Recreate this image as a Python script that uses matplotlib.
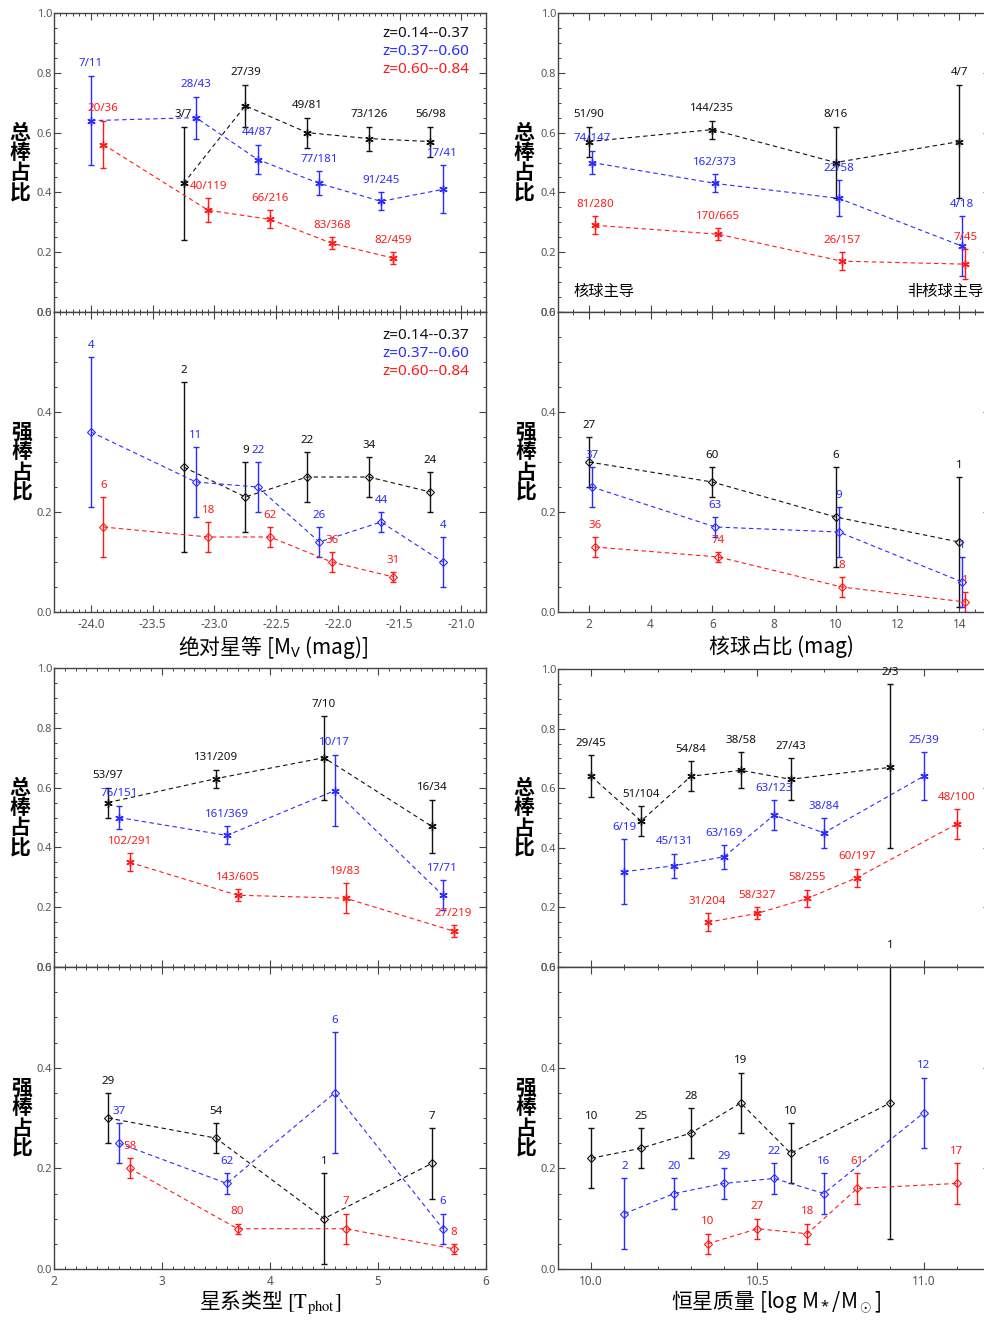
import matplotlib
matplotlib.use("Agg")
import matplotlib.pyplot as plt
from matplotlib.ticker import MultipleLocator, FormatStrFormatter

plt.rcParams['font.family'] = ['Noto Sans', 'Noto Sans CJK SC', 'DejaVu Sans']
plt.rcParams['mathtext.fontset'] = 'custom'
plt.rcParams['mathtext.rm'] = 'Noto Sans'
plt.rcParams['mathtext.it'] = 'Noto Sans:italic'
plt.rcParams['mathtext.bf'] = 'Noto Sans:bold'

# ---- 绝对星等 ----
mv_x_k = [-23.25, -22.75, -22.25, -21.75, -21.25]
mv_x_b = [-24.0, -23.15, -22.65, -22.15, -21.65, -21.15]
mv_x_r = [-23.9, -23.05, -22.55, -22.05, -21.55]
mv_tot_k = [0.43, 0.69, 0.60, 0.58, 0.57]
mv_tot_k_lo = [0.24, 0.62, 0.55, 0.54, 0.52]
mv_tot_k_hi = [0.62, 0.76, 0.65, 0.62, 0.62]
mv_tot_k_lab = ["3/7", "27/39", "49/81", "73/126", "56/98"]
mv_tot_b = [0.64, 0.65, 0.51, 0.43, 0.37, 0.41]
mv_tot_b_lo = [0.49, 0.58, 0.46, 0.39, 0.34, 0.33]
mv_tot_b_hi = [0.79, 0.72, 0.56, 0.47, 0.40, 0.49]
mv_tot_b_lab = ["7/11", "28/43", "44/87", "77/181", "91/245", "17/41"]
mv_tot_r = [0.56, 0.34, 0.31, 0.23, 0.18]
mv_tot_r_lo = [0.48, 0.30, 0.28, 0.21, 0.16]
mv_tot_r_hi = [0.64, 0.38, 0.34, 0.25, 0.20]
mv_tot_r_lab = ["20/36", "40/119", "66/216", "83/368", "82/459"]
mv_str_k = [0.29, 0.23, 0.27, 0.27, 0.24]
mv_str_k_lo = [0.12, 0.16, 0.22, 0.23, 0.20]
mv_str_k_hi = [0.46, 0.30, 0.32, 0.31, 0.28]
mv_str_k_lab = ["2", "9", "22", "34", "24"]
mv_str_b = [0.36, 0.26, 0.25, 0.14, 0.18, 0.10]
mv_str_b_lo = [0.21, 0.19, 0.20, 0.11, 0.16, 0.05]
mv_str_b_hi = [0.51, 0.33, 0.30, 0.17, 0.20, 0.15]
mv_str_b_lab = ["4", "11", "22", "26", "44", "4"]
mv_str_r = [0.17, 0.15, 0.15, 0.10, 0.07]
mv_str_r_lo = [0.11, 0.12, 0.13, 0.08, 0.06]
mv_str_r_hi = [0.23, 0.18, 0.17, 0.12, 0.08]
mv_str_r_lab = ["6", "18", "62", "36", "31"]

# ---- 核球占比 ----
bt_x_k = [2, 6, 10, 14]
bt_x_b = [2.1, 6.1, 10.1, 14.1]
bt_x_r = [2.2, 6.2, 10.2, 14.2]
bt_tot_k = [0.57, 0.61, 0.50, 0.57]
bt_tot_k_lo = [0.52, 0.58, 0.38, 0.38]
bt_tot_k_hi = [0.62, 0.64, 0.62, 0.76]
bt_tot_k_lab = ["51/90", "144/235", "8/16", "4/7"]
bt_tot_b = [0.50, 0.43, 0.38, 0.22]
bt_tot_b_lo = [0.46, 0.40, 0.32, 0.12]
bt_tot_b_hi = [0.54, 0.46, 0.44, 0.32]
bt_tot_b_lab = ["74/147", "162/373", "22/58", "4/18"]
bt_tot_r = [0.29, 0.26, 0.17, 0.16]
bt_tot_r_lo = [0.26, 0.24, 0.14, 0.11]
bt_tot_r_hi = [0.32, 0.28, 0.20, 0.21]
bt_tot_r_lab = ["81/280", "170/665", "26/157", "7/45"]
bt_str_k = [0.30, 0.26, 0.19, 0.14]
bt_str_k_lo = [0.25, 0.23, 0.09, 0.01]
bt_str_k_hi = [0.35, 0.29, 0.29, 0.27]
bt_str_k_lab = ["27", "60", "6", "1"]
bt_str_b = [0.25, 0.17, 0.16, 0.06]
bt_str_b_lo = [0.21, 0.15, 0.11, 0.01]
bt_str_b_hi = [0.29, 0.19, 0.21, 0.11]
bt_str_b_lab = ["37", "63", "9", "1"]
bt_str_r = [0.13, 0.11, 0.05, 0.02]
bt_str_r_lo = [0.11, 0.10, 0.03, 0.00]
bt_str_r_hi = [0.15, 0.12, 0.07, 0.04]
bt_str_r_lab = ["36", "74", "8", "1"]

# ---- 星系类型 ----
tp_x_k = [2.5, 3.5, 4.5, 5.5]
tp_x_b = [2.6, 3.6, 4.6, 5.6]
tp_x_r = [2.7, 3.7, 4.7, 5.7]
tp_tot_k = [0.55, 0.63, 0.70, 0.47]
tp_tot_k_lo = [0.50, 0.60, 0.56, 0.38]
tp_tot_k_hi = [0.60, 0.66, 0.84, 0.56]
tp_tot_k_lab = ["53/97", "131/209", "7/10", "16/34"]
tp_tot_b = [0.50, 0.44, 0.59, 0.24]
tp_tot_b_lo = [0.46, 0.41, 0.47, 0.19]
tp_tot_b_hi = [0.54, 0.47, 0.71, 0.29]
tp_tot_b_lab = ["76/151", "161/369", "10/17", "17/71"]
tp_tot_r = [0.35, 0.24, 0.23, 0.12]
tp_tot_r_lo = [0.32, 0.22, 0.18, 0.10]
tp_tot_r_hi = [0.38, 0.26, 0.28, 0.14]
tp_tot_r_lab = ["102/291", "143/605", "19/83", "27/219"]
tp_str_k = [0.30, 0.26, 0.10, 0.21]
tp_str_k_lo = [0.25, 0.23, 0.01, 0.14]
tp_str_k_hi = [0.35, 0.29, 0.19, 0.28]
tp_str_k_lab = ["29", "54", "1", "7"]
tp_str_b = [0.25, 0.17, 0.35, 0.08]
tp_str_b_lo = [0.21, 0.15, 0.23, 0.05]
tp_str_b_hi = [0.29, 0.19, 0.47, 0.11]
tp_str_b_lab = ["37", "62", "6", "6"]
tp_str_r = [0.20, 0.08, 0.08, 0.04]
tp_str_r_lo = [0.18, 0.07, 0.05, 0.03]
tp_str_r_hi = [0.22, 0.09, 0.11, 0.05]
tp_str_r_lab = ["58", "80", "7", "8"]

# ---- 恒星质量 ----
ms_x_k = [10.0, 10.15, 10.3, 10.45, 10.6, 10.9]
ms_x_b = [10.1, 10.25, 10.4, 10.55, 10.7, 11.0]
ms_x_r = [10.35, 10.5, 10.65, 10.8, 11.1]
ms_tot_k = [0.64, 0.49, 0.64, 0.66, 0.63, 0.67]
ms_tot_k_lo = [0.57, 0.44, 0.59, 0.60, 0.56, 0.40]
ms_tot_k_hi = [0.71, 0.54, 0.69, 0.72, 0.70, 0.95]
ms_tot_k_lab = ["29/45", "51/104", "54/84", "38/58", "27/43", "2/3"]
ms_tot_b = [0.32, 0.34, 0.37, 0.51, 0.45, 0.64]
ms_tot_b_lo = [0.21, 0.30, 0.33, 0.46, 0.40, 0.56]
ms_tot_b_hi = [0.43, 0.38, 0.41, 0.56, 0.50, 0.72]
ms_tot_b_lab = ["6/19", "45/131", "63/169", "63/123", "38/84", "25/39"]
ms_tot_r = [0.15, 0.18, 0.23, 0.30, 0.48]
ms_tot_r_lo = [0.12, 0.16, 0.20, 0.27, 0.43]
ms_tot_r_hi = [0.18, 0.20, 0.26, 0.33, 0.53]
ms_tot_r_lab = ["31/204", "58/327", "58/255", "60/197", "48/100"]
ms_str_k = [0.22, 0.24, 0.27, 0.33, 0.23, 0.33]
ms_str_k_lo = [0.16, 0.20, 0.22, 0.27, 0.17, 0.06]
ms_str_k_hi = [0.28, 0.28, 0.32, 0.39, 0.29, 0.62]
ms_str_k_lab = ["10", "25", "28", "19", "10", "1"]
ms_str_b = [0.11, 0.15, 0.17, 0.18, 0.15, 0.31]
ms_str_b_lo = [0.04, 0.12, 0.14, 0.15, 0.11, 0.24]
ms_str_b_hi = [0.18, 0.18, 0.20, 0.21, 0.19, 0.38]
ms_str_b_lab = ["2", "20", "29", "22", "16", "12"]
ms_str_r = [0.05, 0.08, 0.07, 0.16, 0.17]
ms_str_r_lo = [0.03, 0.06, 0.05, 0.13, 0.13]
ms_str_r_hi = [0.07, 0.10, 0.09, 0.19, 0.21]
ms_str_r_lab = ["10", "27", "18", "61", "17"]

z_bins = ["z=0.14--0.37", "z=0.37--0.60", "z=0.60--0.84"]
c_k, c_b, c_r = "#111111", "#2b2bff", "#ff1a1a"

W, H = 984, 1320
fig = plt.figure(figsize=(W / 100, H / 100), dpi=100)


def rect(left, top, width, bottom):
    # pixel box -> figure fraction
    return [left / W, 1 - bottom / H, width / W, (bottom - top) / H]


def style(ax, xlim, ylim, xmaj, xmin, xfmt, show_x):
    ax.set_xlim(*xlim)
    ax.set_ylim(*ylim)
    ax.xaxis.set_major_locator(MultipleLocator(xmaj))
    ax.xaxis.set_minor_locator(MultipleLocator(xmin))
    ax.yaxis.set_major_locator(MultipleLocator(0.2))
    ax.yaxis.set_minor_locator(MultipleLocator(0.05))
    ax.xaxis.set_major_formatter(FormatStrFormatter(xfmt))
    ax.yaxis.set_major_formatter(FormatStrFormatter('%.1f'))
    ax.tick_params(which='both', direction='in', top=True, right=True,
                   colors='#444444', labelcolor='#555555')
    ax.tick_params(which='major', length=5, width=0.8)
    ax.tick_params(which='minor', length=2.5, width=0.7)
    ax.tick_params(axis='y', labelsize=8, pad=1.5)
    ax.tick_params(axis='x', labelsize=8.5, pad=4, labelbottom=show_x)
    for s in ax.spines.values():
        s.set_color('#444444')
        s.set_linewidth(1.0)


def draw(ax, x, y, lo, hi, labels, color, marker):
    yerr = [[v - l for v, l in zip(y, lo)], [h - v for v, h in zip(y, hi)]]
    ax.errorbar(x, y, yerr=yerr, fmt='none', ecolor=color, elinewidth=1,
                capsize=2.5, capthick=1)
    if marker == 'D':
        ax.plot(x, y, ls='--', dashes=(4, 3), color=color, lw=0.8, marker='D',
                ms=4, mfc='none', mec=color, mew=0.8)
    else:
        ax.plot(x, y, ls='--', dashes=(4, 3), color=color, lw=0.8,
                marker=(6, 2, 0), ms=6, mec=color, mew=1.0)
    for xi, h, lab in zip(x, hi, labels):
        ax.annotate(lab, (xi, h), xytext=(0, 8.5), textcoords='offset points',
                    ha='center', va='center', fontsize=8.3, color=color,
                    annotation_clip=False)


def ylab(x, y, s):
    fig.text(x / W, 1 - y / H, "\n".join(s), ha='center', va='center',
             fontsize=15, fontweight='bold', linespacing=0.95,
             family='Noto Sans CJK SC')


def legend(ax, y0):
    for i, (lab, c) in enumerate(zip(z_bins, [c_k, c_b, c_r])):
        ax.text(0.962, y0 - i * 0.061, lab, transform=ax.transAxes,
                ha='right', va='center', fontsize=11, color=c)


groups = [
    # left, top, mid, bottom, xlim, xmaj, xmin, fmt, xs, top series, bottom series
    (54, 13, 312, 612, (-24.3, -20.8), 0.5, 0.05, '%.1f',
     (mv_x_k, mv_x_b, mv_x_r),
     ((mv_tot_k, mv_tot_k_lo, mv_tot_k_hi, mv_tot_k_lab),
      (mv_tot_b, mv_tot_b_lo, mv_tot_b_hi, mv_tot_b_lab),
      (mv_tot_r, mv_tot_r_lo, mv_tot_r_hi, mv_tot_r_lab)),
     ((mv_str_k, mv_str_k_lo, mv_str_k_hi, mv_str_k_lab),
      (mv_str_b, mv_str_b_lo, mv_str_b_hi, mv_str_b_lab),
      (mv_str_r, mv_str_r_lo, mv_str_r_hi, mv_str_r_lab))),
    (558, 13, 312, 612, (1, 15), 2, 0.5, '%d',
     (bt_x_k, bt_x_b, bt_x_r),
     ((bt_tot_k, bt_tot_k_lo, bt_tot_k_hi, bt_tot_k_lab),
      (bt_tot_b, bt_tot_b_lo, bt_tot_b_hi, bt_tot_b_lab),
      (bt_tot_r, bt_tot_r_lo, bt_tot_r_hi, bt_tot_r_lab)),
     ((bt_str_k, bt_str_k_lo, bt_str_k_hi, bt_str_k_lab),
      (bt_str_b, bt_str_b_lo, bt_str_b_hi, bt_str_b_lab),
      (bt_str_r, bt_str_r_lo, bt_str_r_hi, bt_str_r_lab))),
    (54, 668, 967, 1269, (2, 6), 1, 0.1, '%d',
     (tp_x_k, tp_x_b, tp_x_r),
     ((tp_tot_k, tp_tot_k_lo, tp_tot_k_hi, tp_tot_k_lab),
      (tp_tot_b, tp_tot_b_lo, tp_tot_b_hi, tp_tot_b_lab),
      (tp_tot_r, tp_tot_r_lo, tp_tot_r_hi, tp_tot_r_lab)),
     ((tp_str_k, tp_str_k_lo, tp_str_k_hi, tp_str_k_lab),
      (tp_str_b, tp_str_b_lo, tp_str_b_hi, tp_str_b_lab),
      (tp_str_r, tp_str_r_lo, tp_str_r_hi, tp_str_r_lab))),
    (558, 669, 967, 1269, (9.9, 11.2), 0.5, 0.1, '%.1f',
     (ms_x_k, ms_x_b, ms_x_r),
     ((ms_tot_k, ms_tot_k_lo, ms_tot_k_hi, ms_tot_k_lab),
      (ms_tot_b, ms_tot_b_lo, ms_tot_b_hi, ms_tot_b_lab),
      (ms_tot_r, ms_tot_r_lo, ms_tot_r_hi, ms_tot_r_lab)),
     ((ms_str_k, ms_str_k_lo, ms_str_k_hi, ms_str_k_lab),
      (ms_str_b, ms_str_b_lo, ms_str_b_hi, ms_str_b_lab),
      (ms_str_r, ms_str_r_lo, ms_str_r_hi, ms_str_r_lab))),
]

axes = []
for left, top, mid, bot, xlim, xmaj, xmin, fmt, xs, tot, strong in groups:
    ax1 = fig.add_axes(rect(left, top, 432, mid))
    ax2 = fig.add_axes(rect(left, mid, 432, bot))
    style(ax1, xlim, (0, 1.0), xmaj, xmin, fmt, False)
    style(ax2, xlim, (0, 0.6), xmaj, xmin, fmt, True)
    for x, s, c in zip(xs, tot, [c_k, c_b, c_r]):
        draw(ax1, x, *s, c, '*')
    for x, s, c in zip(xs, strong, [c_k, c_b, c_r]):
        draw(ax2, x, *s, c, 'D')
    ylab(left - 34, (top + mid) / 2, "总棒占比")
    ylab(left - 32, (mid + bot) / 2, "强棒占比")
    axes.append((ax1, ax2))

legend(axes[0][0], 0.933)
legend(axes[0][1], 0.923)

axes[1][0].text(0.037, 0.064, "核球主导", transform=axes[1][0].transAxes,
                ha='left', va='center', fontsize=11)
axes[1][0].text(0.985, 0.064, "非核球主导", transform=axes[1][0].transAxes,
                ha='right', va='center', fontsize=11)

# mathtext labels need the CJK family directly (no fallback inside mathtext)
cjk = 'Noto Sans CJK SC'
fig.text(273 / W, 1 - 647 / H, r"绝对星等 [M$_\mathrm{V}$ (mag)]",
         ha='center', va='center', fontsize=15, family=cjk)
fig.text(781 / W, 1 - 647 / H, "核球占比 (mag)",
         ha='center', va='center', fontsize=15, family=cjk)
fig.text(270 / W, 1 - 1302 / H, r"星系类型 $\mathrm{[T_{phot}]}$",
         ha='center', va='center', fontsize=15, family=cjk,
         math_fontfamily='stix')
fig.text(776 / W, 1 - 1302 / H, r"恒星质量 [log M$_*$/M$_\odot$]",
         ha='center', va='center', fontsize=15, family=cjk)

fig.savefig("out.png", dpi=100)
